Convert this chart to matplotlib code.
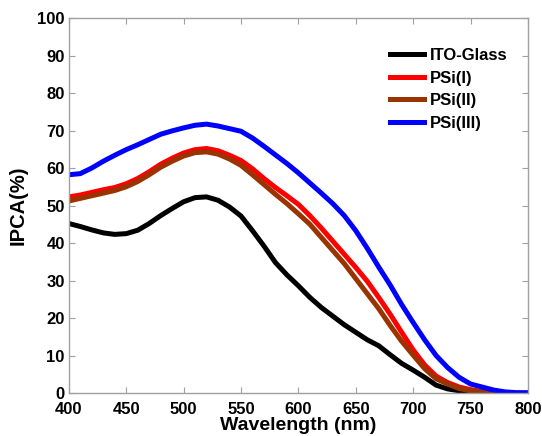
import numpy as np
import matplotlib
matplotlib.use('Agg')
import matplotlib.pyplot as plt

plt.rcParams['font.family'] = ['Liberation Sans', 'DejaVu Sans']
plt.rcParams['font.weight'] = 'bold'

# 数据
wl = list(range(400, 810, 10))
ito_wl = list(range(400, 790, 10))
ito = [45.2, 44.4, 43.5, 42.7, 42.3, 42.5, 43.4, 45.2, 47.3, 49.2,
       51.0, 52.1, 52.3, 51.4, 49.6, 47.2, 43.3, 39.2, 34.8, 31.5,
       28.6, 25.5, 22.8, 20.5, 18.2, 16.2, 14.2, 12.6, 10.2, 7.9,
       6.1, 4.2, 2.1, 1.1, 0.6, 0.3, 0.1, 0.0, 0.0]
psi1_wl = list(range(400, 790, 10))
psi1 = [52.3, 52.8, 53.5, 54.2, 54.8, 55.8, 57.2, 59.0, 61.0, 62.6,
        64.0, 64.9, 65.2, 64.6, 63.4, 62.0, 59.8, 57.2, 54.8, 52.6,
        50.3, 47.3, 44.0, 40.5, 37.0, 33.5, 29.8, 25.5, 21.0, 16.2,
        11.5, 7.5, 4.5, 2.8, 1.6, 0.9, 0.4, 0.1, 0.0]
psi2_wl = list(range(400, 790, 10))
psi2 = [51.2, 51.9, 52.6, 53.3, 54.0, 55.0, 56.4, 58.2, 60.2, 61.8,
        63.2, 64.1, 64.3, 63.7, 62.4, 60.7, 58.2, 55.6, 53.0, 50.5,
        47.8, 45.0, 41.5, 38.0, 34.5, 30.5, 26.5, 22.5, 18.0, 13.8,
        10.1, 6.5, 3.8, 2.4, 1.2, 0.6, 0.3, 0.1, 0.0]
psi3 = [58.2, 58.5, 60.0, 61.8, 63.4, 64.9, 66.2, 67.6, 69.0, 69.9,
        70.7, 71.4, 71.7, 71.2, 70.5, 69.8, 68.0, 65.8, 63.5, 61.2,
        58.7, 56.0, 53.3, 50.5, 47.3, 43.3, 38.6, 33.6, 28.8, 23.6,
        18.8, 14.2, 10.0, 6.8, 4.2, 2.4, 1.6, 0.8, 0.3, 0.1, 0.1]

fig = plt.figure(figsize=(5.42, 4.36), dpi=100)
ax = fig.add_axes([0.127, 0.0986, 0.847, 0.8601])

lw = 3.6
ax.plot(ito_wl, ito, color='black', lw=lw, label='ITO-Glass')
ax.plot(psi1_wl, psi1, color='#ff0000', lw=lw, label='PSi(I)')
ax.plot(psi2_wl, psi2, color='#993300', lw=lw, label='PSi(II)')
ax.plot(wl, psi3, color='#0000ff', lw=lw, label='PSi(III)')

ax.set_xlim(400, 800)
ax.set_ylim(0, 100)
ax.set_xticks(range(400, 801, 50))
ax.set_yticks(range(0, 101, 10))
ax.tick_params(direction='in', length=4, color='#a0a0a0', labelsize=12,
               top=True, right=True, pad=3)
ax.tick_params(axis='x', pad=6.5)
for lab in ax.get_xticklabels() + ax.get_yticklabels():
    lab.set_fontweight('bold')
for s in ax.spines.values():
    s.set_color('#a0a0a0')
    s.set_linewidth(1.0)

ax.set_xlabel('Wavelength (nm)', fontsize=14, fontweight='bold', labelpad=0)
ax.set_ylabel('IPCA(%)', fontsize=14.5, fontweight='bold', labelpad=7)

leg = ax.legend(loc='upper left', bbox_to_anchor=(0.668, 0.96), frameon=False,
                handlelength=2.0, handletextpad=0.35,
                labelspacing=0.45, prop={'weight': 'bold', 'size': 12})

fig.savefig('out.png', dpi=100)
plt.close(fig)
